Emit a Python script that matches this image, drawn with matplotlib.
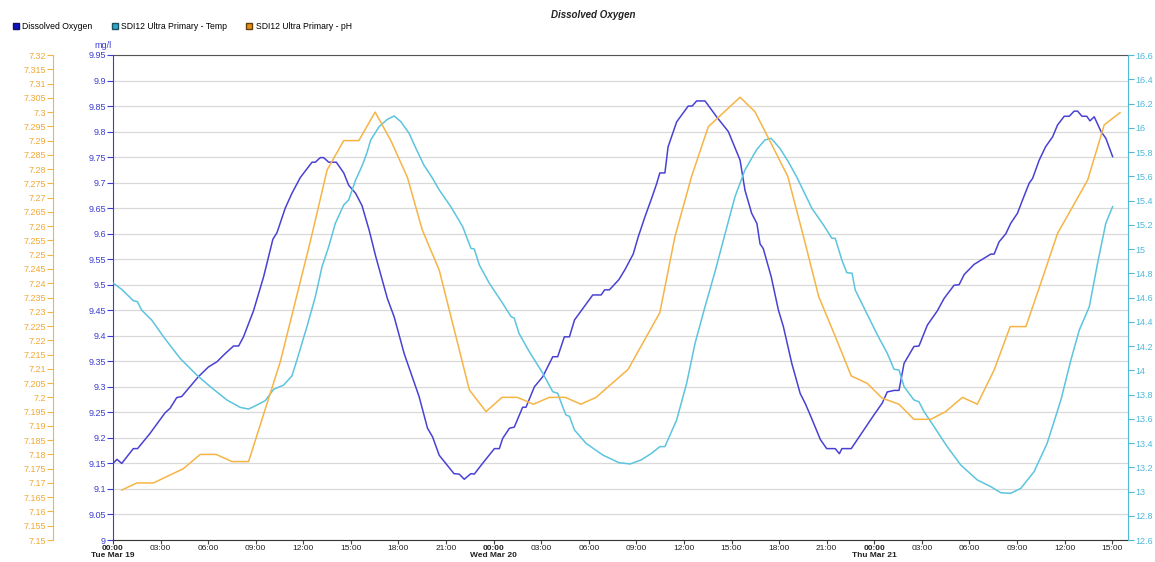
import numpy as np
import pandas as pd
import matplotlib
matplotlib.use('Agg')
import matplotlib.pyplot as plt
from matplotlib.ticker import FuncFormatter
from matplotlib.lines import Line2D

plt.rcParams['font.family'] = ['Liberation Sans', 'DejaVu Sans']

start = pd.Timestamp('2019-03-19 00:00')

# Dissolved oxygen (mg/l), hours since start
do_hours = [0, 0.25, 0.55, 1.28, 1.55, 2.34, 3.28, 3.6, 4.02, 4.33, 5.39, 6.02, 6.55, 7.07, 7.6, 7.92,
            8.23, 8.86, 9.5, 10.08, 10.34, 10.86, 11.28, 11.81, 12.55, 12.76, 13.07, 13.28, 13.6, 14.08,
            14.55, 14.86, 15.3, 15.7, 16.15, 16.57, 17.3, 17.73, 18.36, 18.9, 19.3, 19.83, 20.15, 20.57,
            21.5, 21.83, 22.15, 22.57, 22.78, 23.3, 24.05, 24.36, 24.57, 25.0, 25.3, 25.83, 26.04, 26.57,
            27.1, 27.73, 28.04, 28.46, 28.78, 29.1, 30.25, 30.78, 31.0, 31.3, 31.9, 32.27, 32.8, 33.12,
            33.54, 33.96, 34.28, 34.48, 34.8, 35.0, 35.54, 36.27, 36.52, 36.8, 37.33, 38.06, 38.8, 39.54,
            39.85, 40.27, 40.6, 40.8, 41.0, 41.5, 41.96, 42.27, 42.8, 43.33, 43.64, 43.96, 44.6, 45.0,
            45.54, 45.8, 45.96, 46.55, 47.2, 47.98, 48.5, 48.82, 49.25, 49.56, 49.88, 50.5, 50.82, 51.35,
            51.98, 52.4, 53.03, 53.35, 53.67, 54.3, 54.82, 55.35, 55.56, 55.87, 56.3, 56.6, 57.03, 57.35,
            57.77, 57.98, 58.4, 58.8, 59.25, 59.56, 59.98, 60.3, 60.6, 60.82, 61.1, 61.4, 61.6, 61.87,
            62.3, 62.6, 63.03]
do_vals = [9.15, 9.158, 9.15, 9.179, 9.179, 9.209, 9.249, 9.258, 9.279, 9.281, 9.32, 9.339, 9.349, 9.365, 9.38, 9.38,
           9.398, 9.449, 9.516, 9.589, 9.602, 9.65, 9.679, 9.71, 9.74, 9.74, 9.749, 9.749, 9.74, 9.74,
           9.719, 9.695, 9.679, 9.655, 9.607, 9.555, 9.473, 9.437, 9.365, 9.317, 9.281, 9.219, 9.202, 9.166,
           9.13, 9.129, 9.119, 9.13, 9.129, 9.15, 9.179, 9.179, 9.199, 9.219, 9.221, 9.26, 9.26, 9.3,
           9.32, 9.359, 9.359, 9.398, 9.398, 9.431, 9.48, 9.48, 9.49, 9.49, 9.51, 9.529, 9.56, 9.594,
           9.633, 9.669, 9.698, 9.719, 9.719, 9.77, 9.819, 9.85, 9.85, 9.86, 9.86, 9.829, 9.8, 9.744,
           9.685, 9.64, 9.62, 9.58, 9.571, 9.516, 9.45, 9.418, 9.346, 9.287, 9.268, 9.245, 9.197, 9.179,
           9.179, 9.169, 9.179, 9.179, 9.209, 9.245, 9.268, 9.29, 9.293, 9.293, 9.346, 9.379, 9.38, 9.421,
           9.449, 9.473, 9.499, 9.5, 9.52, 9.54, 9.55, 9.56, 9.56, 9.584, 9.6, 9.62, 9.64, 9.666,
           9.699, 9.708, 9.744, 9.77, 9.79, 9.813, 9.83, 9.83, 9.84, 9.84, 9.83, 9.83, 9.821, 9.829,
           9.8, 9.787, 9.751]

# SDI12 temperature
temp_hours = [0, 0.55, 1.28, 1.54, 1.8, 2.44, 3.18, 4.23, 5.28, 6.13, 7.18, 8.02, 8.55, 9.07, 9.6, 10.13,
              10.76, 11.28, 11.6, 12.23, 12.76, 13.18, 13.6, 14.02, 14.55, 14.86, 15.3, 15.73, 16.0, 16.25,
              16.78, 17.3, 17.73, 18.15, 18.67, 19.1, 19.6, 20.15, 20.57, 21.3, 22.05, 22.57, 22.78, 23.1,
              23.73, 24.57, 25.1, 25.3, 25.6, 26.25, 27.1, 27.73, 28.04, 28.35, 28.56, 28.78, 29.1, 29.83,
              30.88, 31.9, 32.6, 33.3, 33.96, 34.48, 34.8, 35.54, 36.17, 36.7, 37.33, 37.96, 38.6, 39.22,
              39.85, 40.27, 40.6, 41.1, 41.5, 42.05, 42.58, 43.1, 44.07, 44.8, 45.33, 45.54, 45.96, 46.27,
              46.6, 46.8, 47.6, 48.2, 48.82, 49.25, 49.56, 49.88, 50.5, 50.82, 51.14, 51.77, 52.6, 53.45,
              54.5, 55.35, 55.98, 56.6, 57.24, 58.08, 58.9, 59.77, 60.4, 60.93, 61.56, 62.08, 62.6, 63.03]
temp_vals = [14.72, 14.667, 14.574, 14.566, 14.497, 14.414, 14.277, 14.098, 13.961, 13.865, 13.755, 13.694, 13.68, 13.713, 13.749, 13.843,
             13.878, 13.953, 14.085, 14.36, 14.607, 14.854, 15.019, 15.212, 15.363, 15.404, 15.569, 15.693, 15.789, 15.899,
             16.009, 16.069, 16.097, 16.05, 15.954, 15.83, 15.693, 15.583, 15.487, 15.349, 15.184, 15.005, 15.0, 14.868,
             14.717, 14.552, 14.442, 14.43, 14.304, 14.153, 13.975, 13.823, 13.81, 13.7, 13.631, 13.62, 13.507, 13.397,
             13.301, 13.238, 13.227, 13.26, 13.315, 13.37, 13.37, 13.59, 13.892, 14.222, 14.524, 14.813, 15.129, 15.432,
             15.652, 15.748, 15.822, 15.899, 15.913, 15.83, 15.72, 15.597, 15.335, 15.198, 15.088, 15.088, 14.909, 14.805,
             14.8, 14.662, 14.45, 14.291, 14.14, 14.008, 14.002, 13.865, 13.755, 13.74, 13.658, 13.535, 13.37, 13.219,
             13.095, 13.04, 12.99, 12.985, 13.026, 13.164, 13.397, 13.755, 14.085, 14.332, 14.524, 14.882, 15.212, 15.349]

# SDI12 pH
ph_hours = [0.55, 1.5, 2.55, 4.44, 5.5, 6.5, 7.5, 8.55, 10.55, 12.44, 13.5, 14.55, 15.5, 16.53, 17.52,
            18.57, 19.5, 20.57, 22.47, 23.52, 24.53, 25.5, 26.51, 27.52, 28.52, 29.5, 30.46, 32.48, 34.48,
            35.43, 36.48, 37.54, 39.54, 40.48, 41.5, 42.55, 43.54, 44.5, 45.5, 46.55, 47.56, 48.5, 49.56,
            50.5, 51.56, 52.5, 53.56, 54.5, 55.56, 56.57, 57.56, 58.5, 59.56, 61.46, 62.5, 63.5]
ph_vals = [7.1675, 7.17, 7.17, 7.175, 7.18, 7.18, 7.1775, 7.1775, 7.2125, 7.2546, 7.2797, 7.29, 7.29, 7.30, 7.29,
           7.277, 7.2587, 7.2446, 7.2026, 7.195, 7.20, 7.20, 7.1976, 7.20, 7.20, 7.1976, 7.20, 7.2098, 7.2297,
           7.2563, 7.2774, 7.2949, 7.3052, 7.3001, 7.289, 7.2774, 7.2563, 7.2353, 7.2219, 7.2075, 7.2049, 7.1997, 7.1976,
           7.1923, 7.1923, 7.195, 7.20, 7.1976, 7.2096, 7.2248, 7.2248, 7.24, 7.2575, 7.2762, 7.2955, 7.2998]

series_names = ['Dissolved Oxygen', 'SDI12 Ultra Primary - Temp', 'SDI12 Ultra Primary - pH']

do_color = '#4a41d4'
do_text = '#3c3cd0'
temp_color = '#5cc4de'
temp_text = '#4fb9d9'
ph_color = '#f6b445'
ph_text = '#f0a935'


def trim(v, n):
    return f'{v:.{n}f}'.rstrip('0').rstrip('.')


def to_time(hours):
    return start + pd.to_timedelta(hours, unit='h')


fig = plt.figure(figsize=(11.55, 5.62), dpi=100)
ax = fig.add_axes([113 / 1155, 22 / 562, 1015 / 1155, 485 / 562])
ax_t = ax.twinx()
ax_p = ax.twinx()

ax.plot(to_time(do_hours), do_vals, color=do_color, lw=1.1)
ax_t.plot(to_time(temp_hours), temp_vals, color=temp_color, lw=1.1)
ax_p.plot(to_time(ph_hours), ph_vals, color=ph_color, lw=1.1)

# x axis
ax.set_xlim(start, to_time(64))
tick_times = [to_time(h) for h in range(0, 64, 3)]
tick_labels = []
for t in tick_times:
    if t.hour == 0:
        tick_labels.append(t.strftime('%H:%M') + '\n' + t.strftime('%a %b %d'))
    else:
        tick_labels.append(t.strftime('%H:%M'))
ax.set_xticks(tick_times, tick_labels)
for lab, t in zip(ax.get_xticklabels(), tick_times):
    lab.set_multialignment('center')
    lab.set_linespacing(1.05)
    if t.hour == 0:
        lab.set_fontweight('bold')
ax.tick_params(axis='x', length=3, color='#444444', labelsize=6, pad=0.5, labelcolor='#222222')

# DO axis
ax.set_ylim(9.0, 9.95)
ax.set_yticks(np.arange(9.0, 9.951, 0.05))
ax.yaxis.set_major_formatter(FuncFormatter(lambda v, p: trim(v, 2)))
ax.tick_params(axis='y', length=4, color=do_text, labelcolor=do_text, labelsize=6.5, pad=1)
ax.grid(axis='y', color='#d9d9d9', lw=0.9)
ax.set_axisbelow(True)
ax.spines['left'].set_color(do_text)
ax.spines['top'].set_color('#555555')
ax.spines['bottom'].set_color('#333333')
ax.spines['right'].set_visible(False)
ax.text(-10 / 1015, 1 + 10 / 485, 'mg/l', transform=ax.transAxes, color=do_text,
        fontsize=6.5, ha='center', va='center')

# temperature axis
ax_t.set_ylim(12.6, 16.6)
ax_t.set_yticks(np.arange(12.6, 16.61, 0.2))
ax_t.yaxis.set_major_formatter(FuncFormatter(lambda v, p: trim(v, 1)))
ax_t.tick_params(axis='y', length=4, color=temp_text, labelcolor=temp_text, labelsize=6.5, pad=1)
for s in ['left', 'top', 'bottom']:
    ax_t.spines[s].set_visible(False)
ax_t.spines['right'].set_color(temp_text)

# pH axis
ax_p.set_ylim(7.15, 7.32)
ax_p.set_yticks(np.arange(7.15, 7.3201, 0.005))
ax_p.yaxis.set_major_formatter(FuncFormatter(lambda v, p: trim(v, 3)))
ax_p.yaxis.set_ticks_position('left')
ax_p.yaxis.set_label_position('left')
ax_p.spines['left'].set_position(('axes', -60 / 1015))
ax_p.spines['left'].set_visible(True)
ax_p.spines['left'].set_color(ph_color)
for s in ['right', 'top', 'bottom']:
    ax_p.spines[s].set_visible(False)
ax_p.tick_params(axis='y', length=4, color=ph_color, labelcolor=ph_text, labelsize=6.5, pad=1)

# legend and title
handles = [
    Line2D([], [], marker='s', ls='none', markersize=4.5, markerfacecolor='#1010c8', markeredgecolor='#101060'),
    Line2D([], [], marker='s', ls='none', markersize=4.5, markerfacecolor='#2aa8cc', markeredgecolor='#205060'),
    Line2D([], [], marker='s', ls='none', markersize=4.5, markerfacecolor='#e8900a', markeredgecolor='#604010'),
]
fig.legend(handles, series_names, loc='upper left', bbox_to_anchor=(13 / 1155, 1 - 22 / 562), ncol=3,
           frameon=False, fontsize=6.2, handlelength=0.7, handletextpad=0.4, columnspacing=2.2,
           borderaxespad=0, borderpad=0)
fig.text(593 / 1155, 1 - 15 / 562, 'Dissolved Oxygen', fontsize=7, fontweight='bold', style='italic',
         ha='center', va='center', color='#222222')

fig.savefig('out.png', dpi=100)
